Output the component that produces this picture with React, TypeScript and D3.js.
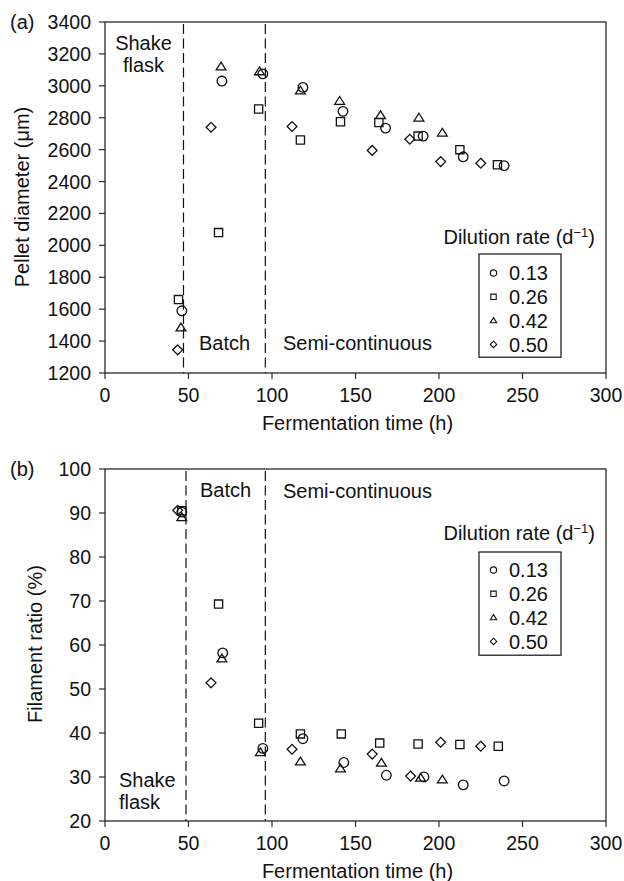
import React from "react";
import * as d3 from "d3";

// ---------- data ----------
const dilutionRates = ["0.13", "0.26", "0.42", "0.50"];
const markerShapes = ["circle", "square", "triangle", "diamond"];

const xTicks = [0, 50, 100, 150, 200, 250, 300];
const yTicksA = [1200, 1400, 1600, 1800, 2000, 2200, 2400, 2600, 2800, 3000, 3200, 3400];
const yTicksB = [20, 30, 40, 50, 60, 70, 80, 90, 100];

// Panel (a): pellet diameter (µm) vs fermentation time (h)
const diamD013: [number, number][] = [[46, 1590], [70, 3030], [94.5, 3075], [118.5, 2990], [142.5, 2840], [168, 2735], [190.5, 2685], [214.5, 2555], [239, 2500]];
const diamD026: [number, number][] = [[44, 1660], [68, 2080], [92, 2855], [117, 2660], [141, 2775], [164, 2770], [187.5, 2685], [212.5, 2600], [235, 2505]];
const diamD042: [number, number][] = [[45.5, 1485], [69.5, 3120], [92.5, 3090], [117, 2970], [140.5, 2905], [165, 2815], [188, 2800], [202, 2705]];
const diamD050: [number, number][] = [[43.5, 1345], [63.5, 2740], [112, 2745], [160, 2595], [182.5, 2665], [201, 2525], [225, 2515]];

// Panel (b): filament ratio (%) vs fermentation time (h)
const filD013: [number, number][] = [[46, 90.2], [70.5, 58.2], [94.5, 36.5], [118.5, 38.7], [143, 33.3], [168.5, 30.4], [191, 30], [214.5, 28.2], [239, 29.1]];
const filD026: [number, number][] = [[46, 90.5], [68, 69.3], [92, 42.2], [117, 39.8], [141.5, 39.8], [164.5, 37.7], [187.5, 37.5], [212.5, 37.4], [235.5, 37]];
const filD042: [number, number][] = [[46, 89], [70, 56.9], [93, 35.6], [117, 33.5], [141, 31.9], [165.5, 33.2], [189, 29.8], [202, 29.4]];
const filD050: [number, number][] = [[43.5, 90.6], [63.5, 51.4], [112, 36.3], [160, 35.2], [183, 30.2], [201, 37.9], [225, 37]];

const phaseBoundsA = [47, 96];
const phaseBoundsB = [48.5, 96];

// ---------- helpers ----------
const FONT = "'Liberation Sans', Arial, Helvetica, sans-serif";
const FS = 20;
const FT = 19.5;
const AXIS = "#2a2a2a";

function markerPath(shape: string, s: number): string {
  switch (shape) {
    case "circle": {
      const r = 4.8 * s;
      return `M${-r},0A${r},${r} 0 1,0 ${r},0A${r},${r} 0 1,0 ${-r},0Z`;
    }
    case "square": {
      const h = 4.1 * s;
      return `M${-h},${-h}H${h}V${h}H${-h}Z`;
    }
    case "triangle": {
      const w = 4.9 * s;
      return `M0,${-4.5 * s}L${w},${3.3 * s}L${-w},${3.3 * s}Z`;
    }
    default: {
      const h = 4.9 * s;
      return `M0,${-h}L${h},0L0,${h}L${-h},0Z`;
    }
  }
}

type PanelProps = {
  top: number;
  bottom: number;
  yDomain: [number, number];
  yTicks: number[];
  series: [number, number][][];
  bounds: number[];
  label: string;
  yTitle: string;
  yTitleX: number;
  yTitleY: number;
  children?: React.ReactNode;
};

const X0 = 105;
const X1 = 606;

function Panel(p: PanelProps) {
  const x = d3.scaleLinear().domain([0, 300]).range([X0, X1]);
  const y = d3.scaleLinear().domain(p.yDomain).range([p.bottom, p.top]);
  return (
    <g>
      {/* frame */}
      <rect x={X0} y={p.top} width={X1 - X0} height={p.bottom - p.top} fill="none" stroke={AXIS} strokeWidth={1.3} />
      {/* y ticks */}
      {p.yTicks.map((t) => (
        <g key={"y" + t}>
          <line x1={X0 - 6} x2={X0} y1={y(t)} y2={y(t)} stroke={AXIS} strokeWidth={1.2} />
          <text x={91} y={y(t)} dy="0.36em" textAnchor="end" fontFamily={FONT} fontSize={FT} fill="#111">{t}</text>
        </g>
      ))}
      {/* x ticks */}
      {xTicks.map((t) => (
        <g key={"x" + t}>
          <line x1={x(t)} x2={x(t)} y1={p.bottom} y2={p.bottom + 6} stroke={AXIS} strokeWidth={1.2} />
          <text x={x(t)} y={p.bottom + 22} dy="0.36em" textAnchor="middle" fontFamily={FONT} fontSize={FT} fill="#111">{t}</text>
        </g>
      ))}
      <text x={(X0 + X1) / 2 + 2} y={p.bottom + 50} dy="0.36em" textAnchor="middle" fontFamily={FONT} fontSize={FS} fill="#111">Fermentation time (h)</text>
      <text transform={`translate(${p.yTitleX},${p.yTitleY}) rotate(-90)`} dy="0.36em" textAnchor="middle" fontFamily={FONT} fontSize={FS} fill="#111">{p.yTitle}</text>
      <text x={10} y={p.top} dy="0.36em" fontFamily={FONT} fontSize={FS} fill="#111">{p.label}</text>
      {/* phase boundaries */}
      {p.bounds.map((b, i) => (
        <line key={"b" + i} x1={x(b)} x2={x(b)} y1={p.top + 2} y2={p.bottom} stroke="#111" strokeWidth={1.2} strokeDasharray="10,4.5" />
      ))}
      {/* points */}
      {p.series.map((s, si) =>
        s.map((d, i) => (
          <path key={si + "-" + i} d={markerPath(markerShapes[si], 1)} transform={`translate(${x(d[0])},${y(d[1])})`} fill="none" stroke="#111" strokeWidth={1.3} />
        ))
      )}
      {p.children}
    </g>
  );
}

function Legend({ left, top, boxTop, titleY }: { left: number; top: number; boxTop: number; titleY: number }) {
  const step = 23.8;
  return (
    <g>
      <text x={595} y={titleY} dy="0.36em" textAnchor="end" fontFamily={FONT} fontSize={FS} fill="#111">
        Dilution rate (d<tspan dy="-7" fontSize={13}>−1</tspan><tspan dy="7">)</tspan>
      </text>
      <rect x={left} y={boxTop} width={82} height={step * 4 + 8} fill="white" stroke="#111" strokeWidth={1.2} />
      {dilutionRates.map((r, i) => (
        <g key={r} transform={`translate(0,${top + i * step})`}>
          <path d={markerPath(markerShapes[i], 0.66)} transform={`translate(${left + 14.5},0)`} fill="none" stroke="#111" strokeWidth={1.1} />
          <text x={left + 30} y={0} dy="0.36em" fontFamily={FONT} fontSize={FS} fill="#111">{r}</text>
        </g>
      ))}
    </g>
  );
}

export default function App() {
  return (
    <svg width={624} height={881} style={{ position: "absolute", left: 0, top: 0, background: "white" }}>
      <rect width={624} height={881} fill="white" />
      <Panel
        top={22}
        bottom={373}
        yDomain={[1200, 3400]}
        yTicks={yTicksA}
        series={[diamD013, diamD026, diamD042, diamD050]}
        bounds={phaseBoundsA}
        label="(a)"
        yTitle="Pellet diameter (μm)"
        yTitleX={22}
        yTitleY={197}
      >
        <text x={143.5} y={43} dy="0.36em" textAnchor="middle" fontFamily={FONT} fontSize={FS} fill="#111">Shake</text>
        <text x={143.5} y={64.5} dy="0.36em" textAnchor="middle" fontFamily={FONT} fontSize={FS} fill="#111">flask</text>
        <text x={199} y={343} dy="0.36em" fontFamily={FONT} fontSize={FS} fill="#111">Batch</text>
        <text x={283} y={343} dy="0.36em" fontFamily={FONT} fontSize={FS} fill="#111">Semi-continuous</text>
        <Legend left={479} top={273} boxTop={254} titleY={237} />
      </Panel>
      <Panel
        top={469}
        bottom={821}
        yDomain={[20, 100]}
        yTicks={yTicksB}
        series={[filD013, filD026, filD042, filD050]}
        bounds={phaseBoundsB}
        label="(b)"
        yTitle="Filament ratio (%)"
        yTitleX={35}
        yTitleY={644}
      >
        <text x={119} y={780} dy="0.36em" fontFamily={FONT} fontSize={FS} fill="#111">Shake</text>
        <text x={119} y={801.5} dy="0.36em" fontFamily={FONT} fontSize={FS} fill="#111">flask</text>
        <text x={200} y={490} dy="0.36em" fontFamily={FONT} fontSize={FS} fill="#111">Batch</text>
        <text x={283} y={491} dy="0.36em" fontFamily={FONT} fontSize={FS} fill="#111">Semi-continuous</text>
        <Legend left={479} top={570} boxTop={552} titleY={533} />
      </Panel>
    </svg>
  );
}
